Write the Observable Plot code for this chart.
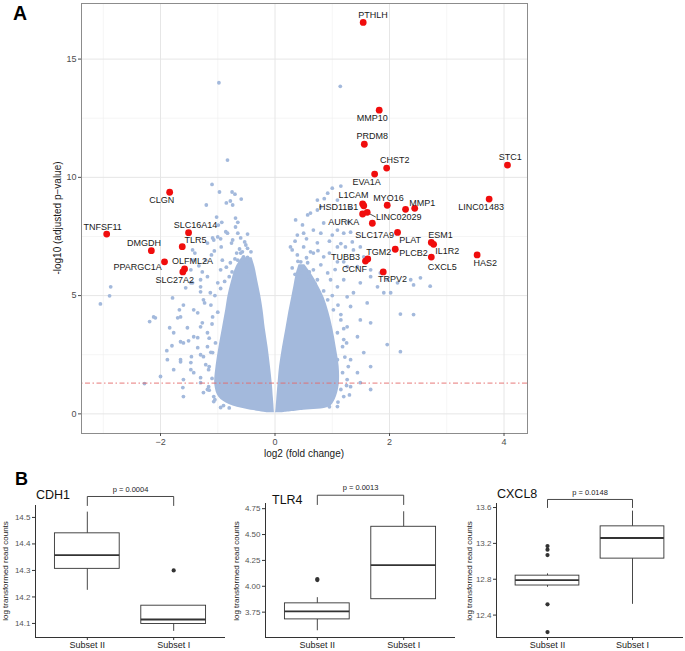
<!DOCTYPE html>
<html><head><meta charset="utf-8">
<script src="https://cdn.jsdelivr.net/npm/d3@7"></script>
<script src="https://cdn.jsdelivr.net/npm/@observablehq/plot@0.6"></script>
<style>
body{margin:0;background:#fff;font-family:"Liberation Sans",Arial,sans-serif;}
#wrap{position:relative;width:685px;height:651px;overflow:hidden;background:#fff;}
.abs{position:absolute;white-space:nowrap;line-height:1;color:#1a1a1a;}
</style></head><body><div id="wrap"></div>
<script>
// ---------- Panel A data ----------
// Dense core of the cloud: envelope of each arm (y, outer x, inner x)
const leftArmY     = [0.05, 0.2, 0.4, 0.7, 1.2, 2.0, 2.8, 3.6, 4.4, 5.0, 5.6, 6.2, 6.6];
const leftArmOuter = [-0.12,-0.50,-0.80,-0.98,-1.05,-1.03,-0.98,-0.92,-0.86,-0.82,-0.76,-0.68,-0.58];
const leftArmInner = [-0.01,-0.015,-0.02,-0.03,-0.045,-0.08,-0.12,-0.17,-0.21,-0.25,-0.30,-0.35,-0.40];
const rightArmY     = [0.05, 0.15, 0.3, 0.6, 1.2, 2.0, 2.8, 3.6, 4.3, 4.9, 5.4, 5.9, 6.3];
const rightArmInner = [0.01, 0.015, 0.02, 0.03, 0.05, 0.08, 0.13, 0.19, 0.24, 0.29, 0.33, 0.37, 0.42];
const rightArmOuter = [0.14, 0.50, 0.95, 1.05, 1.12, 1.12, 1.07, 1.01, 0.94, 0.86, 0.76, 0.64, 0.52];

// scattered genes around the core
const bgFC = [
-0.98,-0.83,1.14,
-1.1,-0.97,-0.75,-0.7,-1.2,-0.85,-0.78,-0.74,-0.59,-1.02,-0.69,-0.93,-0.65,-0.99,-0.86,-0.83,-0.65,-0.48,-0.69,-1.09,-0.95,-0.74,-0.6,-0.53,-0.76,-0.51,-1.06,-0.62,-0.57,-0.48,-0.67,-1.44,-0.48,
-2.87,-2.89,-3.05,-2.12,-2.09,-2.19,-2.28,-2.0,-1.61,-1.6,-1.65,-1.89,-1.8,-1.77,-1.84,-1.7,-1.67,-1.79,-1.6,-1.53,-1.51,-1.46,-1.47,-1.42,-1.56,-1.44,-1.3,-1.18,-1.4,-1.33,-1.27,-1.21,-1.18,-1.07,-1.0,-0.94,-1.11,-1.3,-1.23,-1.35,-1.27,-1.35,-1.18,-1.3,-1.21,-1.3,-1.16,-1.25,-1.07,-0.95,-1.6,-1.77,-1.88,-1.65,
-1.65,-1.6,-1.42,-1.3,-1.35,-1.65,-1.47,-1.25,-1.16,-1.3,-1.18,-1.07,-1.42,-1.25,-1.13,-1.3,-1.47,-1.0,-0.95,-0.78,-0.65,-0.55,-0.92,-1.47,-1.42,-1.09,-1.18,-1.04,-1.09,
-0.85,-0.75,-0.6,-0.5,-0.45,-0.4,-0.88,-0.95,-1.05,-0.7,-0.8,-0.42,-1.12,-1.1,-1.15,-1.12,-1.15,-1.1,-1.15,-1.05,-0.9,-0.8,-1.0,
1.15,1.0,0.92,0.86,0.74,0.62,0.57,0.48,0.8,1.09,1.32,1.28,0.85,0.67,0.39,1.0,1.2,0.27,0.5,0.74,1.09,1.35,1.49,0.39,0.62,0.85,0.3,0.57,0.8,1.09,1.26,1.67,1.49,1.79,2.02,2.14,1.37,1.2,0.97,1.32,1.61,1.49,1.26,1.67,1.44,1.2,1.96,1.55,1.32,1.44,1.67,1.32,1.2,1.09,
2.42,2.71,2.54,2.19,2.42,2.19,2.37,1.9,1.67,1.49,1.15,1.09,1.18,1.09,1.18,1.26,1.15,1.02,0.92,0.74,0.57,0.45,0.67,0.92,1.09,1.26,
0.36,0.74,0.8,0.5,1.09,1.32,1.23,1.37,0.3,0.67,0.45,1.2,1.44,1.55,1.67,1.84,1.96,
0.35,0.45,0.6,0.7,0.85,0.55,0.4,0.75,0.95,1.05,1.0,1.1,1.15,1.2,1.25,1.22,1.28,1.25,1.3,1.1,0.95,0.35,0.55,0.95,1.15];
const bgP = [
14.0,10.73,13.85,
9.7,9.38,9.38,9.29,8.83,8.92,9.0,8.83,9.08,8.32,8.28,8.1,8.1,7.98,7.7,7.64,7.64,7.6,7.9,7.44,7.4,7.35,7.44,7.27,7.22,7.14,6.89,6.97,6.85,7.0,6.8,6.93,6.62,
5.37,4.99,4.65,4.1,4.06,3.9,1.28,1.58,1.11,0.73,2.2,2.67,2.88,3.43,3.64,4.06,4.4,4.9,4.6,3.64,3.09,2.42,1.87,1.74,5.33,5.54,5.67,5.8,6.8,6.26,6.0,6.5,7.22,7.35,7.48,7.06,6.72,5.16,4.69,4.27,3.85,3.22,2.84,2.5,2.08,1.53,1.15,0.9,0.52,0.27,1.45,1.87,2.29,3.05,
4.1,3.0,3.26,3.68,2.8,2.29,2.17,2.42,1.87,1.32,1.03,0.73,4.4,4.82,5.12,5.37,5.54,5.54,6.09,6.39,6.5,6.64,6.5,6.09,6.5,4.1,3.43,3.0,2.59,
6.2,6.0,6.8,6.4,6.0,5.6,5.6,5.3,5.0,6.55,5.8,6.85,4.6,3.8,3.2,2.6,2.0,1.5,1.0,0.6,0.35,0.25,4.3,
9.63,9.54,9.33,9.1,9.04,8.49,8.41,7.99,8.75,9.04,8.7,8.11,8.07,7.77,7.56,7.56,7.64,7.06,7.06,7.23,7.06,7.27,7.06,6.72,6.85,6.64,6.17,6.39,6.3,6.43,6.22,5.8,5.54,5.37,5.12,5.54,5.12,5.67,5.67,4.54,4.69,3.97,3.68,3.85,3.26,3.14,2.93,2.59,2.29,1.74,2.0,1.15,0.73,0.31,
5.45,5.4,5.75,4.22,4.2,2.63,5.67,5.12,1.03,1.32,3.97,3.43,2.84,2.29,1.74,1.45,1.03,4.4,4.82,5.67,5.8,5.96,6.09,5.96,5.37,4.95,
8.2,8.62,7.64,7.64,7.77,7.68,7.06,6.93,6.93,6.8,6.43,6.43,6.22,6.64,6.09,5.96,5.67,
5.9,6.1,6.0,5.5,5.2,6.6,6.45,6.9,6.8,6.1,5.0,4.6,4.2,3.6,3.0,2.4,2.0,1.2,0.8,0.5,0.3,7.3,7.4,7.3,7.2];

// highlighted genes (red)
const sigFC = [1.54,1.82,1.56,1.95,1.74,4.06,3.74,1.53,1.55,1.96,2.28,2.44,1.53,1.61,1.70,2.14,2.73,2.77,2.73,2.10,1.58,1.62,1.89,3.53,
               -1.84,-2.94,-1.51,-2.16,-1.62,-1.93,-1.58,-1.61];
const sigP  = [16.55,12.84,11.40,10.39,10.14,10.52,9.08,8.88,8.80,8.82,8.65,8.69,8.45,8.52,8.06,7.67,7.25,7.17,6.63,6.96,6.46,6.55,6.00,6.72,
               9.37,7.60,7.66,6.90,7.07,6.43,6.13,6.00];
// gene labels (label anchor in data units)
const labelText = ["PTHLH","MMP10","PRDM8","CHST2","EVA1A","STC1","LINC01483","L1CAM","MYO16","MMP1","HSD11B1","LINC02029","AURKA","SLC17A9","PLAT","ESM1","TGM2","PLCB2","IL1R2","CXCL5","HAS2","TUBB3","CCNF","TRPV2",
                   "CLGN","TNFSF11","SLC16A14","DMGDH","TLR5","PPARGC1A","OLFML2A","SLC27A2"];
const labelX = [1.71,1.70,1.70,2.09,1.60,4.11,3.60,1.37,1.98,2.57,1.11,2.16,1.20,1.74,2.36,2.89,1.81,2.42,3.01,2.92,3.67,1.23,1.39,2.05,
                -1.98,-3.01,-1.39,-2.29,-1.39,-2.40,-1.44,-1.75];
const labelY = [16.86,12.51,11.74,10.73,9.80,10.86,8.74,9.23,9.14,8.93,8.74,8.32,8.11,7.56,7.35,7.56,6.85,6.80,6.89,6.22,6.39,6.64,6.14,5.71,
                9.04,7.90,7.98,7.22,7.35,6.22,6.47,5.67];
const leader = {x1:1.62, y1:8.50, x2:1.76, y2:8.32};
const threshold = 1.30103; // -log10(0.05)

// ---------- Panel B data ----------
const groupsB = ["Subset II","Subset I"];
const genesB  = ["CDH1","TLR4","CXCL8"];
const q1B  = [[14.306,14.098],[3.68,3.875],[12.73,13.03]];
const medB = [[14.358,14.115],[3.757,4.205],[12.79,13.26]];
const q3B  = [[14.44,14.167],[3.835,4.575],[12.84,13.39]];
const loB  = [[14.225,14.07],[3.57,3.875],[12.71,12.52]];
const hiB  = [[14.52,14.167],[3.89,4.72],[12.86,13.56]];
const outGene  = [0,1,1,2,2,2,2,2];
const outGroup = [1,0,0,0,0,0,0,0];
const outValue = [14.30,4.07,4.06,13.17,13.13,13.07,12.52,12.21];
const pLabelsB = ["p = 0.0004","p = 0.0013","p = 0.0148"];
const yTicksB  = [[14.1,14.2,14.3,14.4,14.5],[3.75,4.00,4.25,4.50,4.75],[12.4,12.8,13.2,13.6]];
const yFmtB    = [".1f",".2f",".1f"];
const yDomB    = [[14.047,14.545],[3.505,4.80],[12.15,13.645]];
const bracketTop  = [14.579,4.88,13.69];
const bracketFoot = [14.545,4.79,13.60];
const pTextY      = [14.605,4.95,13.77];

// ---------- build ----------
const wrap = document.getElementById("wrap");
const FONT = "Liberation Sans, Arial, Helvetica, sans-serif";
function place(node, left, top){ const d=document.createElement("div"); d.style.position="absolute"; d.style.left=left+"px"; d.style.top=top+"px"; d.appendChild(node); wrap.appendChild(d); return d; }
function label(text, left, top, size, opts={}){ const d=document.createElement("div"); d.className="abs"; d.textContent=text; d.style.left=left+"px"; d.style.top=top+"px"; d.style.fontSize=size+"px"; Object.assign(d.style, opts); wrap.appendChild(d); return d; }

const blue = "#a3b9dc";
const leftArm  = leftArmY.map((y,i)=>({y, x1:leftArmOuter[i], x2:leftArmInner[i]}));
const rightArm = rightArmY.map((y,i)=>({y, x1:rightArmInner[i], x2:rightArmOuter[i]}));
const bg  = bgFC.map((x,i)=>({x, y:bgP[i]}));
const sig = sigFC.map((x,i)=>({x, y:sigP[i]}));
const labs = labelText.map((t,i)=>({t, x:labelX[i], y:labelY[i]}));

const plotA = Plot.plot({
  width: 560, height: 470,
  marginLeft: 81, marginRight: 33, marginTop: 3, marginBottom: 37,
  style: {fontFamily: FONT, fontSize: "9px", background: "transparent", overflow: "visible"},
  x: {domain: [-3.38, 4.41], label: null},
  y: {domain: [-0.83, 17.35], label: null},
  marks: [
    Plot.ruleX([-3,-1,1,3], {stroke:"#f1f1f1", strokeWidth:0.7}),
    Plot.ruleY([2.5,7.5,12.5], {stroke:"#f1f1f1", strokeWidth:0.7}),
    Plot.ruleX([-2,0,2,4], {stroke:"#e6e6e6", strokeWidth:1}),
    Plot.ruleY([0,5,10,15], {stroke:"#e6e6e6", strokeWidth:1}),
    Plot.areaX(leftArm,  {y:"y", x1:"x1", x2:"x2", fill: blue, curve:"catmull-rom"}),
    Plot.areaX(rightArm, {y:"y", x1:"x1", x2:"x2", fill: blue, curve:"catmull-rom"}),
    Plot.dot(bg, {x:"x", y:"y", r:1.9, fill: blue}),
    Plot.ruleY([threshold], {stroke:"#e46a6a", strokeWidth:0.9, strokeDasharray:"1.5,2.5,5,2.5"}),
    Plot.link([leader], {x1:"x1", y1:"y1", x2:"x2", y2:"y2", stroke:"#222", strokeWidth:0.8}),
    Plot.dot(sig, {x:"x", y:"y", r:3.4, fill:"#f00d0d"}),
    Plot.text(labs, {x:"x", y:"y", text:"t", fontSize:9, fill:"#1a1a1a"}),
    Plot.frame({stroke:"#8c8c8c", strokeWidth:1}),
    Plot.axisX({ticks:[-2,0,2,4], tickSize:3, tickPadding:2, fill:"#4d4d4d", stroke:"#4d4d4d", fontSize:9, label:null}),
    Plot.axisY({ticks:[0,5,10,15], tickSize:3, tickPadding:2, fill:"#4d4d4d", stroke:"#4d4d4d", fontSize:9, label:null})
  ]
});
place(plotA, 0, 0);
label("A", 13, 4, 19.5, {fontWeight:"bold", color:"#000"});
label("log2 (fold change)", 304, 454, 10, {transform:"translate(-50%,-50%)"});
label("-log10 (adjusted p\u2212value)", 58, 218, 10, {transform:"translate(-50%,-50%) rotate(-90deg)"});

// ---------- Panel B ----------
const layoutB = [
  {left:0,   width:230, marginLeft:35, marginRight:5, marginTop:35, titleX:36,  titleY:495, ytitleX:6},
  {left:230, width:230, marginLeft:35, marginRight:5, marginTop:33, titleX:272, titleY:500, ytitleX:237},
  {left:460, width:225, marginLeft:36, marginRight:2, marginTop:33, titleX:497, titleY:494, ytitleX:470}
];
genesB.forEach((g,k)=>{
  const L = layoutB[k];
  const boxes = [0,1].map(i=>({p:i+1, q1:q1B[k][i], med:medB[k][i], q3:q3B[k][i], lo:loB[k][i], hi:hiB[k][i]}));
  const outs = outValue.map((v,i)=>({p:outGroup[i]+1, v, g:outGene[i]})).filter(d=>d.g===k);
  const br = [{x:1,y:bracketFoot[k]},{x:1,y:bracketTop[k]},{x:2,y:bracketTop[k]},{x:2,y:bracketFoot[k]}];
  const yd = yDomB[k];
  const p = Plot.plot({
    width: L.width, height: 181,
    marginLeft: L.marginLeft, marginRight: L.marginRight, marginTop: L.marginTop, marginBottom: 14,
    style: {fontFamily: FONT, fontSize:"8px", background:"transparent", overflow:"visible"},
    x: {domain:[0.4,2.6], label:null},
    y: {domain: yd, label:null},
    marks: [
      Plot.ruleY([yd[0]], {stroke:"#333", strokeWidth:1}),
      Plot.ruleX([0.4], {stroke:"#333", strokeWidth:1}),
      Plot.ruleX(boxes, {x:"p", y1:"lo", y2:"q1", stroke:"#333", strokeWidth:0.9}),
      Plot.ruleX(boxes, {x:"p", y1:"q3", y2:"hi", stroke:"#333", strokeWidth:0.9}),
      Plot.rect(boxes, {x1:d=>d.p-0.375, x2:d=>d.p+0.375, y1:"q1", y2:"q3", fill:"white", stroke:"#333", strokeWidth:0.9}),
      Plot.ruleY(boxes, {y:"med", x1:d=>d.p-0.375, x2:d=>d.p+0.375, stroke:"#333", strokeWidth:1.8}),
      Plot.dot(outs, {x:"p", y:"v", r:2.1, fill:"#333"}),
      Plot.line(br, {x:"x", y:"y", stroke:"#333", strokeWidth:0.9}),
      Plot.text([pLabelsB[k]], {x:1.5, y:pTextY[k], text:d=>d, fontSize:7.5, fill:"#222"}),
      Plot.axisX({ticks:[1,2], tickFormat:d=>groupsB[d-1], tickSize:3, tickPadding:1, fontSize:9, fill:"#222", stroke:"#333", label:null}),
      Plot.axisY({ticks:yTicksB[k], tickFormat:d3.format(yFmtB[k]), tickSize:3, tickPadding:2, fontSize:8, fill:"#555", stroke:"#333", label:null})
    ]
  });
  place(p, L.left, 470);
  label(g, L.titleX, L.titleY - 6, 12.5, {color:"#111"});
  label("log transformed read counts", L.ytitleX, 571, 8, {transform:"translate(-50%,-50%) rotate(-90deg)"});
});
label("B", 15, 470, 18, {fontWeight:"bold", color:"#000"});
</script></body></html>
